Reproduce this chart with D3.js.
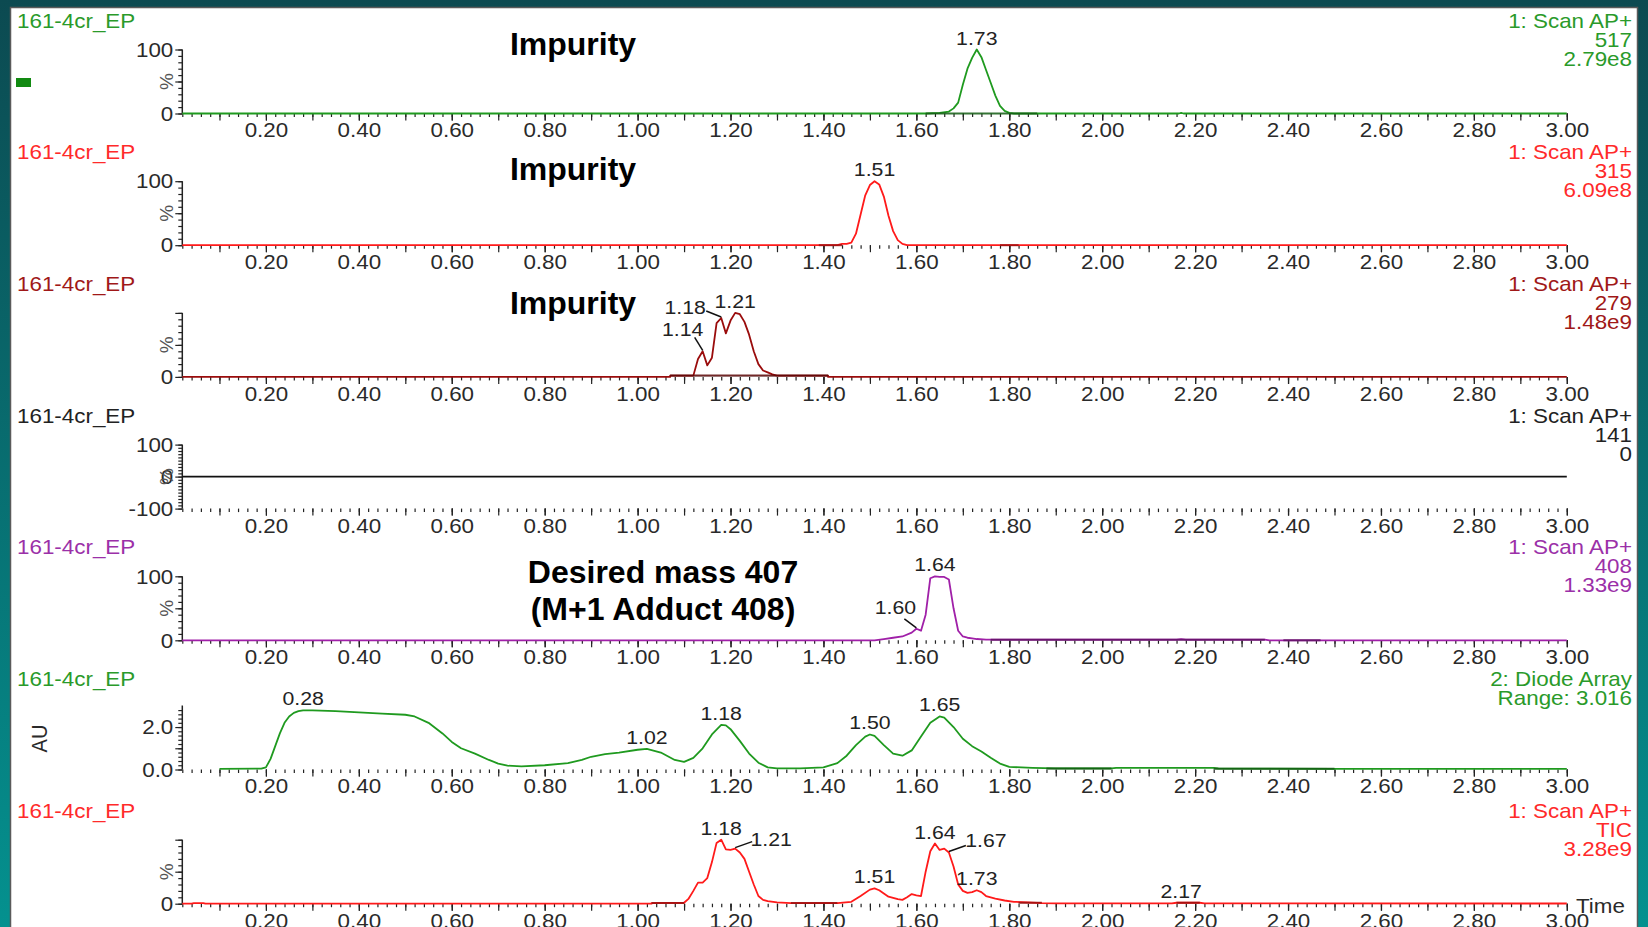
<!DOCTYPE html>
<html>
<head>
<meta charset="utf-8">
<script src="https://cdn.jsdelivr.net/npm/d3@7"></script>
<style>
  html, body { margin: 0; padding: 0; background: #0b4d53; }
  svg { display: block; font-family: "Liberation Sans", Arial, sans-serif; }
</style>
</head>
<body>
<svg id="chart" width="1648" height="927"></svg>
<script>
// ---------- data ----------
const xTickLabels = [0.20, 0.40, 0.60, 0.80, 1.00, 1.20, 1.40, 1.60, 1.80, 2.00, 2.20, 2.40, 2.60, 2.80, 3.00];
const sampleName = "161-4cr_EP";

// m/z 517 (%), time in min
const trace517 = [[0.02,0],[1.62,0],[1.65,1],[1.67,3],[1.68,8],[1.69,17],[1.70,45],[1.71,70],[1.72,87],[1.73,100],[1.74,88],[1.75,68],[1.76,48],[1.77,28],[1.78,12],[1.79,4],[1.80,1],[1.81,0],[2.165,0],[2.17,1],[2.175,0],[3.00,0]];
const base517 = [[1.62,1.86,0]];
const peaks517 = [1.73];

// m/z 315 (%)
const trace315 = [[0.02,0],[1.39,0],[1.43,0],[1.44,2],[1.45,2],[1.46,4],[1.47,18],[1.48,48],[1.49,78],[1.50,94],[1.51,100],[1.52,95],[1.53,76],[1.54,46],[1.55,22],[1.56,8],[1.57,2],[1.58,0],[3.00,0]];
const base315 = [[1.39,1.44,0],[1.78,1.82,0]];
const peaks315 = [1.51];

// m/z 279 (%)
const trace279 = [[0.02,0],[1.07,0],[1.07,2],[1.12,2],[1.13,28],[1.14,40],[1.15,18],[1.16,30],[1.17,84],[1.18,92],[1.19,68],[1.20,88],[1.21,100],[1.22,98],[1.23,86],[1.24,66],[1.25,40],[1.26,20],[1.27,10],[1.28,7],[1.29,4],[1.30,2],[1.41,2],[1.41,0],[3.00,0]];
const base279 = [[1.07,1.41,2]];
const peaks279 = [1.14, 1.18, 1.21];

// m/z 141 (%)
const trace141 = [[0.02,0],[3.00,0]];

// m/z 408 (%)
const trace408 = [[0.02,0],[1.51,0],[1.53,2],[1.55,4],[1.57,6],[1.59,12],[1.60,18],[1.61,15],[1.62,40],[1.63,97],[1.64,100],[1.65,99],[1.66,99],[1.67,95],[1.68,50],[1.69,15],[1.70,6],[1.71,4],[1.72,3],[1.73,2],[1.75,1],[2.16,1],[2.17,1.8],[2.18,1],[2.35,1],[2.36,0],[3.00,0]];
const base408 = [[1.76,2.35,1],[2.39,2.47,0]];
const peaks408 = [1.60, 1.64];

// Diode array (AU)
const traceDAD = [[0.10,0.03],[0.19,0.04],[0.20,0.1],[0.21,0.5],[0.22,1.1],[0.23,1.7],[0.24,2.2],[0.25,2.5],[0.26,2.67],[0.27,2.75],[0.28,2.79],[0.30,2.79],[0.35,2.75],[0.40,2.69],[0.45,2.63],[0.50,2.58],[0.52,2.5],[0.55,2.2],[0.58,1.7],[0.60,1.3],[0.62,1.0],[0.65,0.75],[0.68,0.45],[0.70,0.28],[0.72,0.18],[0.75,0.15],[0.80,0.2],[0.85,0.3],[0.88,0.45],[0.90,0.6],[0.93,0.72],[0.96,0.8],[1.00,0.93],[1.02,0.97],[1.05,0.8],[1.08,0.45],[1.10,0.36],[1.12,0.55],[1.14,1.0],[1.16,1.65],[1.18,2.1],[1.19,2.08],[1.20,1.9],[1.22,1.35],[1.24,0.75],[1.26,0.32],[1.28,0.1],[1.30,0.05],[1.35,0.05],[1.40,0.1],[1.43,0.3],[1.45,0.65],[1.47,1.15],[1.49,1.55],[1.50,1.65],[1.51,1.58],[1.53,1.15],[1.55,0.75],[1.57,0.65],[1.59,0.9],[1.61,1.55],[1.63,2.2],[1.65,2.5],[1.66,2.45],[1.68,2.0],[1.70,1.45],[1.72,1.1],[1.74,0.85],[1.76,0.55],[1.78,0.28],[1.80,0.12],[1.85,0.08],[1.90,0.05],[2.02,0.05],[2.03,0.08],[2.24,0.08],[2.25,0.05],[2.50,0.03],[3.00,0.03]];
const baseDAD = [[1.88,2.02,0.05],[2.24,2.50,0.04]];
const peaksDAD = [0.28, 1.02, 1.18, 1.50, 1.65];

// TIC (%)
const traceTIC = [[0.02,0],[0.04,0],[0.045,1],[0.065,1],[0.07,0],[1.03,0],[1.03,1],[1.10,1.5],[1.11,8],[1.12,20],[1.13,33],[1.14,33],[1.15,40],[1.16,65],[1.17,95],[1.18,100],[1.19,85],[1.20,84],[1.21,86],[1.22,80],[1.23,70],[1.24,50],[1.25,30],[1.26,12],[1.27,6],[1.28,4],[1.30,2],[1.33,1],[1.43,1],[1.46,3],[1.48,12],[1.50,22],[1.51,24],[1.52,21],[1.54,11],[1.56,7],[1.57,6],[1.58,10],[1.59,15],[1.60,13],[1.61,12],[1.62,50],[1.63,82],[1.64,94],[1.65,84],[1.66,86],[1.67,80],[1.68,58],[1.69,30],[1.70,20],[1.71,17],[1.72,18],[1.73,21],[1.74,18],[1.75,12],[1.77,8],[1.79,5],[1.81,3],[1.84,2],[1.87,1],[1.90,0.5],[2.15,0.5],[2.16,1.5],[2.21,1.5],[2.22,0.5],[3.00,0.3]];
const baseTIC = [[1.03,1.10,1],[1.33,1.43,1],[1.82,1.87,1.5],[2.16,2.21,1.5]];
const peaksTIC = [1.18, 1.21, 1.51, 1.64, 1.67, 1.73, 2.17];

// ---------- panel definitions ----------
const panels = [
  { trace: trace517, base: base517, peaks: peaks517, color: "#1f9a1f", textColor: "#2a9a2a",
    info: ["1: Scan AP+", "517", "2.79e8"], yDomain: [0, 100], yLabels: [0, 100], yUnit: "%", note: ["Impurity"] },
  { trace: trace315, base: base315, peaks: peaks315, color: "#ff1a1a", textColor: "#ff2a2a",
    info: ["1: Scan AP+", "315", "6.09e8"], yDomain: [0, 100], yLabels: [0, 100], yUnit: "%", note: ["Impurity"] },
  { trace: trace279, base: base279, peaks: peaks279, color: "#9a0c0c", textColor: "#a01818",
    info: ["1: Scan AP+", "279", "1.48e9"], yDomain: [0, 100], yLabels: [0], yUnit: "%", note: ["Impurity"] },
  { trace: trace141, base: [], peaks: [], color: "#111111", textColor: "#222222",
    info: ["1: Scan AP+", "141", "0"], yDomain: [-100, 100], yLabels: [-100, 0, 100], yUnit: "%", note: [] },
  { trace: trace408, base: base408, peaks: peaks408, color: "#a020a8", textColor: "#9b30a8",
    info: ["1: Scan AP+", "408", "1.33e9"], yDomain: [0, 100], yLabels: [0, 100], yUnit: "%", note: ["Desired mass 407", "(M+1 Adduct 408)"] },
  { trace: traceDAD, base: baseDAD, peaks: peaksDAD, color: "#1f9a1f", textColor: "#2a9a2a",
    info: ["2: Diode Array", "Range: 3.016"], yDomain: [0, 3.016], yLabels: [0, 2], yUnit: "AU", note: [] },
  { trace: traceTIC, base: baseTIC, peaks: peaksTIC, color: "#ff1a1a", textColor: "#ff2a2a",
    info: ["1: Scan AP+", "TIC", "3.28e9"], yDomain: [0, 100], yLabels: [0], yUnit: "%", note: [] }
];

// label placement for peaks whose text sits off to one side with a leader
const leaders = {
  "2:1.14": { dx: -20, dy: -22, lx: -8, ly: -14 },
  "2:1.18": { dx: -36, dy: -11, lx: -15, ly: -7 },
  "4:1.60": { dx: -21, dy: -22, lx: -12, ly: -10 },
  "6:1.21": { dx: 36, dy: -10, lx: 17, ly: -7 },
  "6:1.67": { dx: 37, dy: -12, lx: 17, ly: -7 }
};

// vertical placement of each panel (x axis line) and of the bold notes
const panelShift = [0, 0, 0, 0, 0, -2.5, 0];
const noteBaseline = [55, 179.5, 314];

// ---------- layout ----------
const W = 1648, H = 927;
const step = 131.7, axis0 = 113.5, plotH = 64;
const x = d3.scaleLinear().domain([0.02, 3.00]).range([182.3, 1566.8]);
// the instrument text is drawn slightly wide
const tickFont = 20, titleFont = 20, peakFont = 19, wide = 1.12;

const svg = d3.select("#chart");
const defs = svg.append("defs");
const grad = defs.append("linearGradient").attr("id", "bg").attr("x1", 0).attr("y1", 0).attr("x2", 0).attr("y2", 1);
grad.append("stop").attr("offset", "0%").attr("stop-color", "#0c4a51");
grad.append("stop").attr("offset", "100%").attr("stop-color", "#04918f");
svg.append("rect").attr("width", W).attr("height", H).attr("fill", "url(#bg)");
svg.append("rect").attr("x", 10.5).attr("y", 7.5).attr("width", 1627).attr("height", 930)
  .attr("fill", "#ffffff").attr("stroke", "#5a5a5a").attr("stroke-width", 1.5);

// text placed at (tx, ty) and widened about that point
const wideText = (sel, tx, ty, s, size, fill, anchor = "start", dy = null) => {
  const t = sel.append("text").attr("transform", `translate(${tx},${ty}) scale(${wide},1)`)
    .attr("text-anchor", anchor).attr("font-size", size).attr("fill", fill).text(s);
  if (dy) t.attr("dy", dy);
  return t;
};

const interp = (tr, t) => {
  for (let i = 1; i < tr.length; i++) {
    if (tr[i][0] >= t) {
      const [t0, v0] = tr[i - 1], [t1, v1] = tr[i];
      return t1 === t0 ? v1 : v0 + (v1 - v0) * (t - t0) / (t1 - t0);
    }
  }
  return tr[tr.length - 1][1];
};

panels.forEach((p, i) => {
  const yAxis = axis0 + i * step + panelShift[i];
  const y = d3.scaleLinear().domain(p.yDomain).range([yAxis, yAxis - plotH]);
  const g = svg.append("g");

  // sample name
  wideText(g, 17, 27.5 + i * step, sampleName, titleFont, p.textColor);

  // function info on the right
  p.info.forEach((s, k) => {
    wideText(g, 1632, 27.5 + i * step + k * 19, s, titleFont, p.textColor, "end");
  });

  // x axis: labelled, tenths, and fine ticks
  const xAx = g.append("g").attr("transform", `translate(0,${yAxis})`);
  xAx.call(d3.axisBottom(x).tickValues(d3.range(1, 151).map(d => d * 0.02)).tickSize(3.5).tickFormat("").tickSizeOuter(0));
  xAx.append("g").call(d3.axisBottom(x).tickValues(d3.range(1, 31).map(d => d / 10)).tickSize(7).tickFormat("").tickSizeOuter(0));
  const lab = xAx.append("g").call(d3.axisBottom(x).tickValues(xTickLabels).tickSize(7).tickFormat(d3.format(".2f")).tickSizeOuter(0));
  lab.selectAll("text").attr("font-size", tickFont).attr("fill", "#2a2a2a").attr("dy", "0.9em").attr("y", 6)
    .attr("transform", `scale(${wide},1)`);
  lab.select(".domain").remove();
  xAx.selectAll("g g .domain").remove();
  xAx.selectAll("line").attr("stroke", "#222").attr("stroke-width", 1.2);
  xAx.select(".domain").attr("stroke", "#222").attr("stroke-width", 1.5);

  // y axis
  const yAx = g.append("g").attr("transform", `translate(${x(0.02)},0)`);
  let minor, major;
  if (p.yUnit === "AU") {
    minor = d3.range(0, 15).map(d => d * 0.2);
    major = [0, 1, 2];
  } else if (p.yDomain[0] < 0) {
    minor = d3.range(-10, 11).map(d => d * 10);
    major = [-100, 0, 100];
  } else {
    minor = d3.range(0, 11).map(d => d * 10);
    major = [0, 50, 100];
  }
  yAx.call(d3.axisLeft(y).tickValues(minor).tickSize(4).tickFormat("").tickSizeOuter(0));
  yAx.append("g").call(d3.axisLeft(y).tickValues(major).tickSize(7).tickFormat("").tickSizeOuter(0))
    .select(".domain").remove();
  yAx.selectAll("line").attr("stroke", "#222").attr("stroke-width", 1.2);
  yAx.select(".domain").attr("stroke", "#222").attr("stroke-width", 1.5)
    .attr("d", `M0,${yAxis}V${yAxis - plotH}`);
  const fmt = p.yUnit === "AU" ? (v => v.toFixed(1)) : (v => String(v));
  p.yLabels.forEach(v => {
    wideText(g, x(0.02) - 9, y(v), fmt(v), tickFont, "#2a2a2a", "end", "0.36em");
  });
  if (p.yUnit === "%") {
    const yc = yAxis - plotH / 2;
    g.append("text").attr("transform", `translate(${x(0.02) - 16},${yc}) rotate(-90)`)
      .attr("text-anchor", "middle").attr("dy", "0.36em").attr("font-size", 19).attr("fill", "#555").text("%");
  } else {
    g.append("text").attr("transform", `translate(39,${yAxis - 31}) rotate(-90) scale(1,${wide})`)
      .attr("text-anchor", "middle").attr("dy", "0.36em").attr("font-size", tickFont).attr("fill", "#2a2a2a").text("AU");
  }

  // integration baselines
  p.base.forEach(([t0, t1, v]) => {
    if (v > 0) {
      g.append("rect").attr("x", x(t0)).attr("y", y(v)).attr("width", x(t1) - x(t0))
        .attr("height", Math.max(0, y(p.yDomain[0] < 0 ? 0 : p.yDomain[0]) - y(v))).attr("fill", "#c8c8c8");
    }
  });

  // trace
  const line = d3.line().x(d => x(d[0])).y(d => y(d[1]));
  g.append("path").datum(p.trace).attr("d", line).attr("fill", "none")
    .attr("stroke", p.color).attr("stroke-width", 1.8).attr("stroke-linejoin", "round");

  p.base.forEach(([t0, t1, v]) => {
    g.append("path").datum([[t0, v], [t1, v]]).attr("d", line)
      .attr("stroke", d3.color(p.color).darker(1.4)).attr("stroke-width", 2).attr("fill", "none").attr("opacity", 0.85);
  });

  // peak labels
  p.peaks.forEach(t => {
    const px = x(t), py = y(interp(p.trace, t));
    const key = `${i}:${t.toFixed(2)}`;
    const L = leaders[key];
    if (L) {
      g.append("line").attr("x1", px).attr("y1", py - 1).attr("x2", px + L.lx).attr("y2", py + L.ly)
        .attr("stroke", "#111").attr("stroke-width", 1.5);
      wideText(g, px + L.dx, py + L.dy, t.toFixed(2), peakFont, "#222", "middle", "0.36em");
    } else {
      wideText(g, px, py - 5, t.toFixed(2), peakFont, "#222", "middle");
    }
  });

  // annotations
  if (p.note.length === 1) {
    g.append("text").attr("x", 573).attr("y", noteBaseline[i])
      .attr("text-anchor", "middle").attr("font-size", 32).attr("font-weight", "bold").attr("fill", "#000").text(p.note[0]);
  } else if (p.note.length === 2) {
    p.note.forEach((s, k) => {
      g.append("text").attr("x", 663).attr("y", 583 + k * 37)
        .attr("text-anchor", "middle").attr("font-size", 32).attr("font-weight", "bold").attr("fill", "#000").text(s);
    });
  }
});

// marker square, upper left
svg.append("rect").attr("x", 16).attr("y", 78).attr("width", 15).attr("height", 9).attr("fill", "#128a12");

// time axis title
wideText(svg, 1576, axis0 + 6 * step + 9, "Time", tickFont, "#2a2a2a");
</script>
</body>
</html>
